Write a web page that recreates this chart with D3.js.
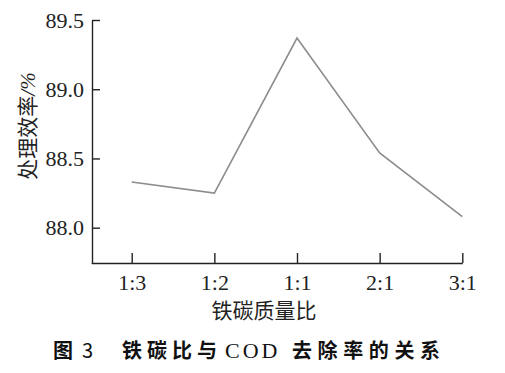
<!DOCTYPE html>
<html>
<head>
<meta charset="utf-8">
<script src="https://cdn.jsdelivr.net/npm/d3@7"></script>
<style>
  body { margin: 0; background: #fff; }
</style>
</head>
<body>
<div id="canvas"></div>
<script>
var ratios = ["1:3", "1:2", "1:1", "2:1", "3:1"];
var efficiency = [88.33, 88.25, 89.37, 88.54, 88.08];
var yTicks = [88.0, 88.5, 89.0, 89.5];

var width = 505, height = 373;
var serif = "'Liberation Serif', 'Times New Roman', serif";
var cjk = "'Noto Sans CJK SC', sans-serif";

var svg = d3.select("#canvas").append("svg")
    .attr("width", width)
    .attr("height", height);

var x = d3.scalePoint()
    .domain(ratios)
    .range([131.7, 462.3]);

var y = d3.scaleLinear()
    .domain([87.745, 89.5])
    .range([263, 20]);

// axes, ticks point inward
var xAxis = svg.append("g")
    .attr("transform", "translate(0,263)")
    .call(d3.axisBottom(x).tickSizeInner(-10).tickSizeOuter(0).tickPadding(11));
xAxis.select(".domain").attr("d", "M91.7,0.5H462.8");

var yAxis = svg.append("g")
    .attr("transform", "translate(92,0)")
    .call(d3.axisLeft(y).tickValues(yTicks).tickFormat(d3.format(".1f"))
        .tickSizeInner(-8).tickSizeOuter(0).tickPadding(8));

svg.selectAll(".domain, .tick line").attr("stroke", "#222").attr("stroke-width", 1.4);
svg.selectAll(".tick text")
    .attr("font-family", serif)
    .attr("font-size", 22)
    .attr("fill", "#222");

var line = d3.line()
    .x(function(d, i) { return x(ratios[i]); })
    .y(function(d) { return y(d); });

svg.append("path")
    .datum(efficiency)
    .attr("fill", "none")
    .attr("stroke", "#8c8c8c")
    .attr("stroke-width", 1.6)
    .attr("d", line);

// axis titles
var yTitle = svg.append("text")
    .attr("transform", "translate(35,126) rotate(-90)")
    .attr("text-anchor", "middle")
    .attr("font-family", cjk)
    .attr("font-size", 21)
    .attr("fill", "#222");
yTitle.append("tspan").text("处理效率");
yTitle.append("tspan").attr("font-family", serif).attr("font-style", "italic").text("/%");

svg.append("text")
    .attr("x", 264)
    .attr("y", 318)
    .attr("text-anchor", "middle")
    .attr("font-family", cjk)
    .attr("font-size", 21)
    .attr("fill", "#222")
    .text("铁碳质量比");

// caption
var cap = svg.append("text")
    .attr("y", 358)
    .attr("font-family", cjk)
    .attr("font-size", 20)
    .attr("font-weight", "bold")
    .attr("fill", "#111");
cap.append("tspan").attr("x", 53).text("图");
cap.append("tspan").attr("x", 82).attr("font-weight", "normal").text("3");
cap.append("tspan").attr("x", 122).attr("letter-spacing", 5).text("铁碳比与");
cap.append("tspan").attr("x", 225)
    .attr("font-family", serif).attr("font-weight", "normal")
    .attr("font-size", 22).attr("letter-spacing", 3).text("COD");
cap.append("tspan").attr("x", 292).attr("letter-spacing", 5.6).text("去除率的关系");
</script>
</body>
</html>
